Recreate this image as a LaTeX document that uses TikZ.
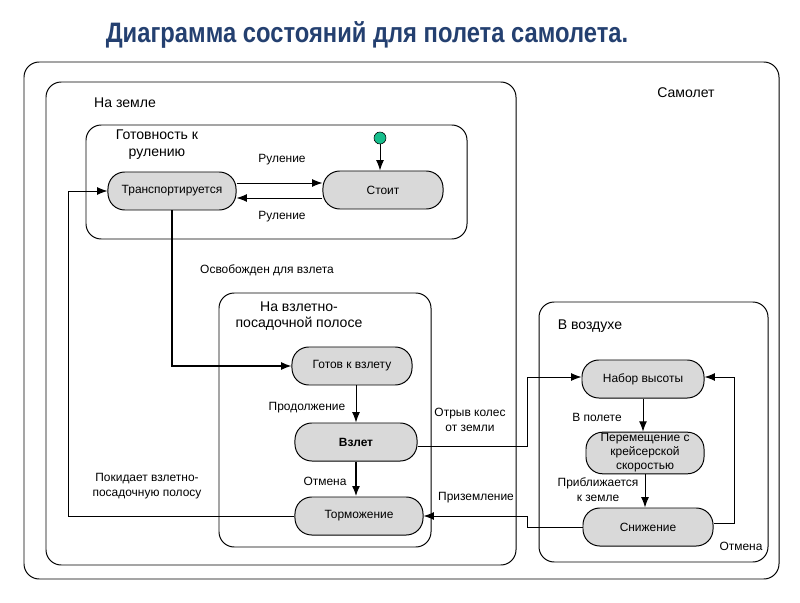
\documentclass[tikz,border=0pt]{standalone}
\usepackage{fontspec}
\setmainfont{Liberation Sans}
\newfontfamily\titlefont[FakeStretch=0.845]{Liberation Sans}
\usepackage{tikz}
\usetikzlibrary{arrows.meta}
\definecolor{titleblue}{RGB}{36,64,112}
\definecolor{stategray}{RGB}{217,217,217}
\definecolor{initgreen}{RGB}{22,190,140}

\begin{document}
\begin{tikzpicture}[x=0.025cm,y=-0.025cm,
	stbox/.style={draw,line width=0.7pt,fill=stategray,rounded corners=0.42cm,
		minimum height=0.95cm,align=center,font=\fontsize{8.5}{10}\selectfont},
	frame/.style={draw,line width=0.7pt,rounded corners=0.38cm},
	lbl/.style={align=center,inner sep=0pt,font=\fontsize{8.5}{10.5}\selectfont},
	biglbl/.style={align=center,inner sep=0pt,font=\fontsize{10}{12}\selectfont},
	arr/.style={line width=0.7pt,-{Latex[length=2.6mm,width=2mm]}},
	line/.style={line width=0.7pt}]
	\useasboundingbox (0,0) rectangle (800,603);

	%title
	\node[text=titleblue,font=\titlefont\bfseries\fontsize{20}{24}\selectfont] (title) at (367,35) {Диаграмма состояний для полета самолета.};

	%frames
	\draw[frame] (24,62) rectangle (779,579);
	\draw[frame] (46,82) rectangle (516,565);
	\draw[frame] (86,125) rectangle (467,239);
	\draw[frame] (219,293) rectangle (431,547);
	\draw[frame] (539,302) rectangle (768,562);
	\node[biglbl] (plane) 	at (686,93) 	{Самолет};
	\node[biglbl] (ground) 	at (125,103) 	{На земле};
	\node[biglbl] (taxi) 	at (157,145) 	{Готовность к\\рулению};
	\node[biglbl] (runway) 	at (299,316) 	{На взлетно-\\посадочной полосе};
	\node[biglbl] (air) 	at (590,326) 	{В воздухе};

	%states
	\node[fill=initgreen,draw,circle,inner sep=0pt,minimum size=0.3cm] (init) at (380,138) {};
	\node[stbox,minimum width=3cm] 	(stoit) 	at (383,190) {Стоит};
	\node[stbox,minimum width=3.2cm] (trans) 	at (172,191) {Транспортируется};
	\node[stbox,minimum width=3cm] 	(ready) 	at (352,366) {Готов к взлету};
	\node[stbox,minimum width=3.05cm] (vzlet) 	at (356,442) {\textbf{Взлет}};
	\node[stbox,minimum width=3.2cm] (tormoz) 	at (359,516) {Торможение};
	\node[stbox,minimum width=3.05cm] (nabor) 	at (643,379) {Набор высоты};
	\node[stbox,minimum width=2.95cm,inner sep=1pt] (cruise) at (645,453) {Перемещение с\\крейсерской\\скоростью};
	\node[stbox,minimum width=3.25cm] (snizh) 	at (648,527) {Снижение};

	%helper points
	\coordinate (lft) at (68,0);
	\coordinate (mid) at (527,0);
	\coordinate (rgt) at (734,0);

	%transitions
	\draw[arr] (init) -- (init |- stoit.north);
	\draw[arr] ([yshift=0.2cm]trans.east) -- ([yshift=0.2cm]trans.east -| stoit.west);
	\draw[arr] ([yshift=-0.2cm]stoit.west) -- ([yshift=-0.2cm]stoit.west -| trans.east);
	\draw[arr,line width=1pt] (trans.south) |- (ready.west);
	\draw[arr] (vzlet |- ready.south) -- (vzlet.north);
	\draw[arr,line width=1.4pt] (vzlet.south) -- (vzlet.south |- tormoz.north);
	\draw[arr] (tormoz.west) -- (tormoz.west -| lft) |- (trans.west);
	\draw[arr] ([yshift=-0.12cm]vzlet.east) -- ([yshift=-0.12cm]vzlet.east -| mid) |- ([yshift=0.05cm]nabor.west);
	\draw[arr] (snizh.west) -- (snizh.west -| mid) |- (tormoz.east);
	\draw[arr] (nabor.south) -- (nabor.south |- cruise.north);
	\draw[arr] (cruise.south) -- (cruise.south |- snizh.north);
	\draw[arr] ([yshift=0.08cm]snizh.east) -- ([yshift=0.08cm]snizh.east -| rgt) |- ([yshift=0.05cm]nabor.east);

	%transition labels
	\node[lbl] (l1) at (282,160) 	{Руление};
	\node[lbl] (l2) at (282,217) 	{Руление};
	\node[lbl] (l3) at (267,270) 	{Освобожден для взлета};
	\node[lbl] (l4) at (307,408) 	{Продолжение};
	\node[lbl] (l5) at (325,481) 	{Отмена};
	\node[lbl] (l6) at (147,486) 	{Покидает взлетно-\\посадочную полосу};
	\node[lbl] (l7) at (470,420) 	{Отрыв колес\\от земли};
	\node[lbl] (l8) at (476,498) 	{Приземление};
	\node[lbl] (l9) at (597,417) 	{В полете};
	\node[lbl] (l10) at (598,490) 	{Приближается\\к земле};
	\node[lbl] (l11) at (741,546) 	{Отмена};
\end{tikzpicture}
\end{document}
